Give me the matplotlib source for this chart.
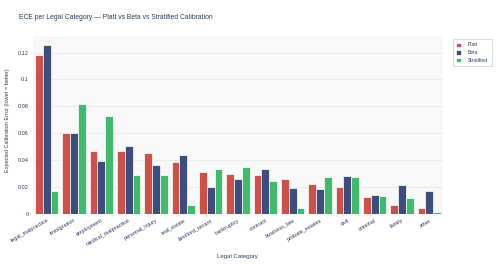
import matplotlib
matplotlib.use("Agg")
import matplotlib.pyplot as plt
import numpy as np

plt.rcParams["font.family"] = ["Liberation Sans", "DejaVu Sans"]

categories = ["legal_malpractice", "immigration", "employment", "medical_malpractice",
              "personal_injury", "real_estate", "landlord_tenant", "bankruptcy", "contract",
              "business_law", "probate_estates", "civil", "criminal", "family", "other"]
platt = [0.118, 0.0604, 0.0465, 0.0465, 0.0455, 0.0385, 0.031, 0.0298, 0.0288,
         0.0255, 0.022, 0.0198, 0.012, 0.0063, 0.004]
beta = [0.1257, 0.0604, 0.039, 0.0505, 0.036, 0.044, 0.020, 0.0258, 0.033,
        0.019, 0.018, 0.028, 0.0135, 0.021, 0.017]
stratified = [0.0165, 0.0816, 0.0729, 0.029, 0.029, 0.0065, 0.0335, 0.0345, 0.0245,
              0.0045, 0.027, 0.027, 0.0128, 0.0113, 0.001]
series_names = ["Platt", "Beta", "Stratified"]
colors = ["#c9524a", "#3e4d7a", "#45b86f"]
yticks = [0, 0.02, 0.04, 0.06, 0.08, 0.1, 0.12]
ytick_labels = ["0", "0.02", "0.04", "0.06", "0.08", "0.1", "0.12"]

txt = "#2a3f5f"
fig = plt.figure(figsize=(5, 2.64), dpi=100)
ax = fig.add_axes([0.066, 0.191, 0.82, 0.671])
ax.set_facecolor("#f8f8f8")

x = np.arange(len(categories))
w = 0.85 / 3
for i, (vals, name, c) in enumerate(zip([platt, beta, stratified], series_names, colors)):
    ax.bar(x + (i - 1) * w, vals, width=w, color=c, edgecolor="white", linewidth=0.5,
           label=name, zorder=3)

ax.set_xlim(-0.5, len(categories) - 0.5)
ax.set_ylim(0, 0.132)
ax.set_yticks(yticks)
ax.set_yticklabels(ytick_labels)
ax.grid(axis="y", color="#ebebeb", linewidth=0.8, zorder=0)
ax.set_xticks(x)
ax.set_xticklabels(categories, rotation=30, ha="right", rotation_mode="anchor")
ax.tick_params(axis="both", length=0, labelsize=4.0, colors=txt, pad=3)
for s in ax.spines.values():
    s.set_visible(False)

ax.set_xlabel("Legal Category", fontsize=4.3, color=txt)
ax.xaxis.set_label_coords(0.499, -0.229)
ax.set_ylabel("Expected Calibration Error (lower = better)", fontsize=4.0, color=txt)
ax.yaxis.set_label_coords(-0.056, 0.528)
fig.text(0.038, 0.935, "ECE per Legal Category \u2014 Platt vs Beta vs Stratified Calibration",
         fontsize=4.9, color=txt, ha="left", va="center")

leg = ax.legend(loc="upper left", bbox_to_anchor=(1.018, 1.0), fontsize=3.6, frameon=True,
                handlelength=0.9, handleheight=0.9, handletextpad=1.4, borderpad=0.7,
                labelspacing=0.55, fancybox=False)
leg.get_frame().set_edgecolor("#cfd6dc")
leg.get_frame().set_linewidth(0.8)
for t in leg.get_texts():
    t.set_color(txt)

fig.savefig("out.png", dpi=100)
